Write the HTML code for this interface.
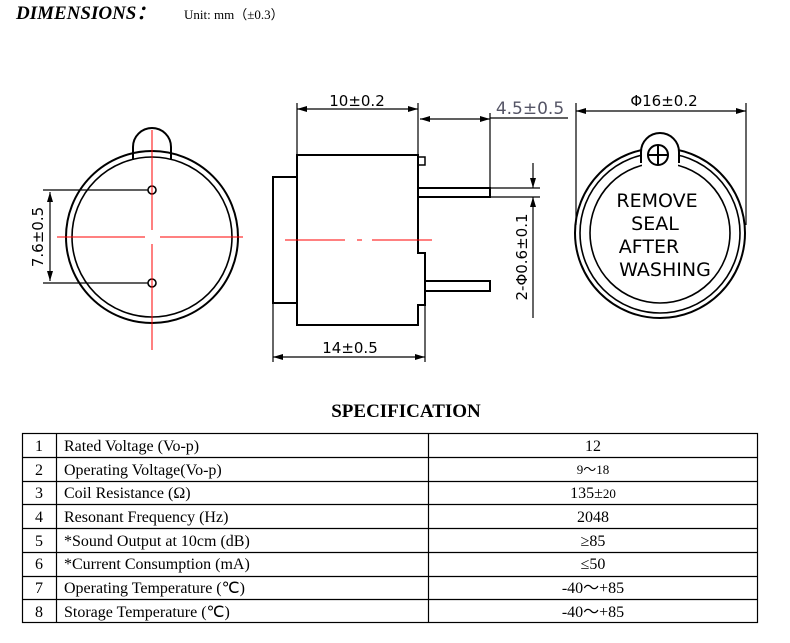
<!DOCTYPE html>
<html><head><meta charset="utf-8"><style>
body{margin:0;background:#fff;width:790px;height:643px;overflow:hidden}
svg{display:block}
.d{font-family:"DejaVu Sans","Liberation Sans",sans-serif;font-size:15px;fill:#000}
.s{font-family:"Liberation Serif",serif;font-size:16px;fill:#000}
</style></head><body>
<svg width="790" height="643" viewBox="0 0 790 643" xmlns="http://www.w3.org/2000/svg">
<defs><marker id="a" viewBox="0 0 10 6" refX="10" refY="3" markerWidth="10" markerHeight="6" orient="auto-start-reverse" markerUnits="userSpaceOnUse"><path d="M0,0 L10,3 L0,6 z" fill="#000"/></marker></defs>
<text x="16" y="19" font-family="Liberation Serif,serif" font-weight="bold" font-style="italic" font-size="19">DIMENSIONS：</text>
<text x="184" y="19" font-family="Liberation Serif,'Noto Sans CJK SC',serif" font-size="13">Unit: mm（±0.3）</text>

<g fill="none" stroke="#000" stroke-width="2">
<!-- left view -->
<circle cx="152" cy="237" r="86"/>
<circle cx="152" cy="237" r="80" stroke-width="1.6"/>
<path d="M133,160 V147 A19,19 0 0 1 171,147 V160"/>
<circle cx="152" cy="190" r="4" stroke-width="1.6"/>
<circle cx="152" cy="283" r="4" stroke-width="1.6"/>
<!-- side view -->
<path d="M418,155 H297 V325 H418 V305 H425 V253 H418 Z"/>
<path d="M418,155 V253"/>
<rect x="273" y="177" width="24" height="126"/>
<rect x="418" y="157" width="7" height="8" stroke-width="1.5"/>
<rect x="418" y="188" width="72" height="9"/>
<rect x="425" y="281" width="65" height="10"/>
<!-- right view -->
<circle cx="660" cy="233" r="85"/>
<circle cx="660" cy="233" r="80" stroke-width="1.6"/>
<circle cx="660" cy="233" r="70" stroke-width="1.6"/>
</g>
<rect x="642" y="135" width="36" height="35" fill="#fff"/>
<g fill="none" stroke="#000" stroke-width="2">
<path d="M641,163 V152 A19,19 0 0 1 679,152 V163"/>
<circle cx="658" cy="155" r="10"/>
<path d="M648,155 H668 M658,145 V165"/>
</g>

<g stroke="#000" stroke-width="1.2" fill="none">
<path d="M43,190 H148 M43,283 H148"/>
<path d="M50,192 V281" marker-start="url(#a)" marker-end="url(#a)"/>
<path d="M297,103 V155 M418,103 V155 M490,113 V188 M273,303 V362 M425,305 V362"/>
<path d="M297,109 H418" marker-start="url(#a)" marker-end="url(#a)"/>
<path d="M420,119 H490" marker-start="url(#a)" marker-end="url(#a)"/>
<path d="M490,118 H568"/>
<path d="M273,357 H425" marker-start="url(#a)" marker-end="url(#a)"/>
<path d="M490,188 H540 M490,197 H540"/>
<path d="M533,163 V188" marker-end="url(#a)"/>
<path d="M533,318 V197" marker-end="url(#a)"/>
<path d="M576,103 V225 M746,103 V225"/>
<path d="M576,111 H746" marker-start="url(#a)" marker-end="url(#a)"/>
</g>
<g stroke="#f00" stroke-width="1">
<path d="M57,237 H145 M160,237 H243"/>
<path d="M152,130 V230 M152,244 V350"/>
<path d="M285,240 H345 M357,240 H362 M372,240 H432"/>
</g>

<text class="d" transform="translate(43,237) rotate(-90)" text-anchor="middle">7.6±0.5</text>
<text class="d" x="357" y="106" text-anchor="middle">10±0.2</text>
<text class="d" x="530" y="114" text-anchor="middle" style="fill:#556;font-size:17px">4.5±0.5</text>
<text class="d" x="350" y="353" text-anchor="middle">14±0.5</text>
<text class="d" transform="translate(527,257) rotate(-90)" text-anchor="middle">2-Φ0.6±0.1</text>
<text class="d" x="664" y="106" text-anchor="middle">Φ16±0.2</text>
<g font-family="DejaVu Sans,sans-serif" font-size="19" text-anchor="middle">
<text x="657" y="207">REMOVE</text>
<text x="655" y="230">SEAL</text>
<text x="649" y="253">AFTER</text>
<text x="665" y="276">WASHING</text>
</g>

<text x="406" y="417" text-anchor="middle" font-family="Liberation Serif,serif" font-weight="bold" font-size="19">SPECIFICATION</text>
<g stroke="#000" stroke-width="1.2" fill="none">
<rect x="22.5" y="433.5" width="735" height="189"/>
<path d="M56.5,433 V623 M428.5,433 V623"/>
<path d="M22,457.5 H758 M22,481.5 H758 M22,504.5 H758 M22,528.5 H758 M22,552.5 H758 M22,576.5 H758 M22,599.5 H758"/>
</g>
<g class="s">
<text x="39" y="451" text-anchor="middle">1</text><text x="64" y="451">Rated Voltage (Vo-p)</text><text x="593" y="451" text-anchor="middle">12</text>
<text x="39" y="475" text-anchor="middle">2</text><text x="64" y="475">Operating Voltage(Vo-p)</text><text x="593" y="474" text-anchor="middle" font-size="13">9～18</text>
<text x="39" y="498" text-anchor="middle">3</text><text x="64" y="498">Coil Resistance (Ω)</text><text x="593" y="498" text-anchor="middle">135±<tspan font-size="13">20</tspan></text>
<text x="39" y="522" text-anchor="middle">4</text><text x="64" y="522">Resonant Frequency (Hz)</text><text x="593" y="522" text-anchor="middle">2048</text>
<text x="39" y="546" text-anchor="middle">5</text><text x="64" y="546">*Sound Output at 10cm (dB)</text><text x="593" y="546" text-anchor="middle">≥85</text>
<text x="39" y="569" text-anchor="middle">6</text><text x="64" y="569">*Current Consumption (mA)</text><text x="593" y="569" text-anchor="middle">≤50</text>
<text x="39" y="593" text-anchor="middle">7</text><text x="64" y="593">Operating Temperature (℃)</text><text x="593" y="593" text-anchor="middle">-40～+85</text>
<text x="39" y="617" text-anchor="middle">8</text><text x="64" y="617">Storage Temperature (℃)</text><text x="593" y="617" text-anchor="middle">-40～+85</text>
</g>
</svg>
</body></html>
